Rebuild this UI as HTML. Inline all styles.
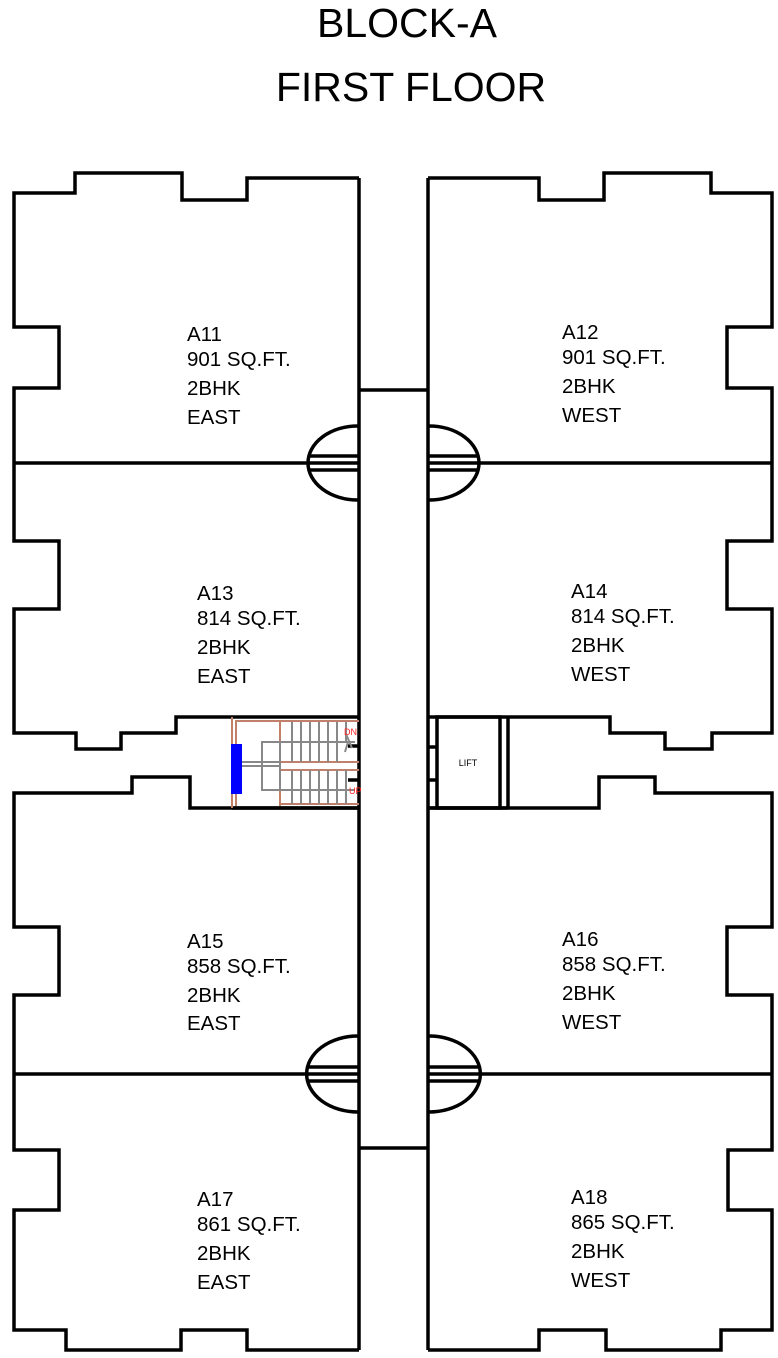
<!DOCTYPE html>
<html><head><meta charset="utf-8"><style>
html,body{margin:0;padding:0;background:#fff}
svg{display:block}
text{font-family:"Liberation Sans",Arial,sans-serif}
</style></head><body>
<svg width="778" height="1358" viewBox="0 0 778 1358" xmlns="http://www.w3.org/2000/svg">
<text x="407" y="37" font-size="41" text-anchor="middle">BLOCK-A</text>
<text x="411" y="101" font-size="41" text-anchor="middle">FIRST FLOOR</text>
<g fill="none" stroke="#000" stroke-width="3.5">
<path d="M359,178 L247,178 L247,200 L182,200 L182,173 L75,173 L75,193 L14,193 L14,327 L59,327 L59,388 L14,388 L14,541 L59,541 L59,609 L14,609 L14,733 L76,733 L76,749 L121,749 L121,733 L176,733 L176,717 L359,717"/>
<line x1="14" y1="463" x2="359" y2="463"/>
<path d="M428,178 L539,178 L539,200 L604,200 L604,173 L711,173 L711,193 L772,193 L772,327 L727,327 L727,388 L772,388 L772,541 L727,541 L727,609 L772,609 L772,733 L712,733 L712,749 L665,749 L665,733 L610,733 L610,717 L428,717"/>
<line x1="428" y1="463" x2="772" y2="463"/>
<path d="M359,808 L190,808 L190,777 L132,777 L132,793 L14,793 L14,927 L59,927 L59,995 L14,995 L14,1150 L59,1150 L59,1210 L14,1210 L14,1330 L66,1330 L66,1350 L181,1350 L181,1330 L247,1330 L247,1350 L359,1350"/>
<line x1="14" y1="1074" x2="359" y2="1074"/>
<path d="M428,808 L599,808 L599,777 L655,777 L655,793 L772,793 L772,927 L727,927 L727,995 L772,995 L772,1150 L728,1150 L728,1210 L772,1210 L772,1330 L721,1330 L721,1350 L606,1350 L606,1330 L539,1330 L539,1350 L428,1350"/>
<line x1="428" y1="1074" x2="772" y2="1074"/>
<line x1="359" y1="178" x2="359" y2="1350"/>
<line x1="428" y1="178" x2="428" y2="1350"/>
<line x1="359" y1="390" x2="428" y2="390"/>
<line x1="359" y1="1148" x2="428" y2="1148"/>
<path d="M358,426 A50,37 0 0 0 358,500"/>
<path d="M429,426 A50,37 0 0 1 429,500"/>
<path d="M358,1036 A50,37 0 0 0 358,1112"/>
<path d="M429,1036 A50,37 0 0 1 429,1112"/>
<path d="M309,456 H359 M309,470 H359 M428,456 H478 M428,470 H478"/>
<path d="M309,1067 H359 M309,1081 H359 M428,1067 H478 M428,1081 H478"/>
<line x1="232" y1="808" x2="359" y2="808"/>
<rect x="437" y="717" width="63" height="91"/>
<line x1="508" y1="717" x2="508" y2="808"/>
<line x1="428" y1="808" x2="508" y2="808"/>
<path d="M428,747 H437 M428,780 H437"/>
<path d="M348,746 H359 M348,780 H359"/>
</g>
<g stroke="#c0806a" stroke-width="2" fill="none">
<line x1="232" y1="717" x2="232" y2="808"/>
<line x1="236" y1="720" x2="236" y2="806"/>
<line x1="236" y1="721" x2="359" y2="721"/>
<line x1="280" y1="721" x2="280" y2="806"/>
<line x1="280" y1="762" x2="359" y2="762"/>
<line x1="280" y1="770" x2="359" y2="770"/>
<line x1="280" y1="804" x2="359" y2="804"/>
</g>
<g stroke="#888" stroke-width="2" fill="none">
<rect x="262" y="742" width="18" height="48"/>
<path d="M242,762 H280 M242,766 H280"/>
<path d="M280,742 H355 M280,790 H355"/>
<path d="M292,722 V762 M301,722 V762 M310,722 V762 M319,722 V762 M328,722 V762 M337,722 V762 M346,722 V742 M292,770 V804 M301,770 V804 M310,770 V804 M319,770 V804 M328,770 V804 M337,770 V804 M346,770 V804"/>
<path d="M346,734 L352,748 M348,742 L345,752"/>
</g>
<rect x="231" y="744" width="11" height="50" fill="#0000ff"/>
<text x="344" y="735" font-size="9" fill="#ff2020">DN</text>
<text x="349" y="794" font-size="9" fill="#ff2020">UP</text>
<text x="468" y="766" font-size="9" text-anchor="middle">LIFT</text>
<g font-size="20.5">
<text x="187" y="341">A11</text><text x="187" y="366">901 SQ.FT.</text><text x="187" y="395">2BHK</text><text x="187" y="424">EAST</text>
<text x="562" y="339">A12</text><text x="562" y="364">901 SQ.FT.</text><text x="562" y="393">2BHK</text><text x="562" y="422">WEST</text>
<text x="197" y="600">A13</text><text x="197" y="625">814 SQ.FT.</text><text x="197" y="654">2BHK</text><text x="197" y="683">EAST</text>
<text x="571" y="598">A14</text><text x="571" y="623">814 SQ.FT.</text><text x="571" y="652">2BHK</text><text x="571" y="681">WEST</text>
<text x="187" y="948">A15</text><text x="187" y="973">858 SQ.FT.</text><text x="187" y="1002">2BHK</text><text x="187" y="1030">EAST</text>
<text x="562" y="946">A16</text><text x="562" y="971">858 SQ.FT.</text><text x="562" y="1000">2BHK</text><text x="562" y="1029">WEST</text>
<text x="197" y="1206">A17</text><text x="197" y="1231">861 SQ.FT.</text><text x="197" y="1260">2BHK</text><text x="197" y="1289">EAST</text>
<text x="571" y="1204">A18</text><text x="571" y="1229">865 SQ.FT.</text><text x="571" y="1258">2BHK</text><text x="571" y="1287">WEST</text>
</g>
</svg>
</body></html>
